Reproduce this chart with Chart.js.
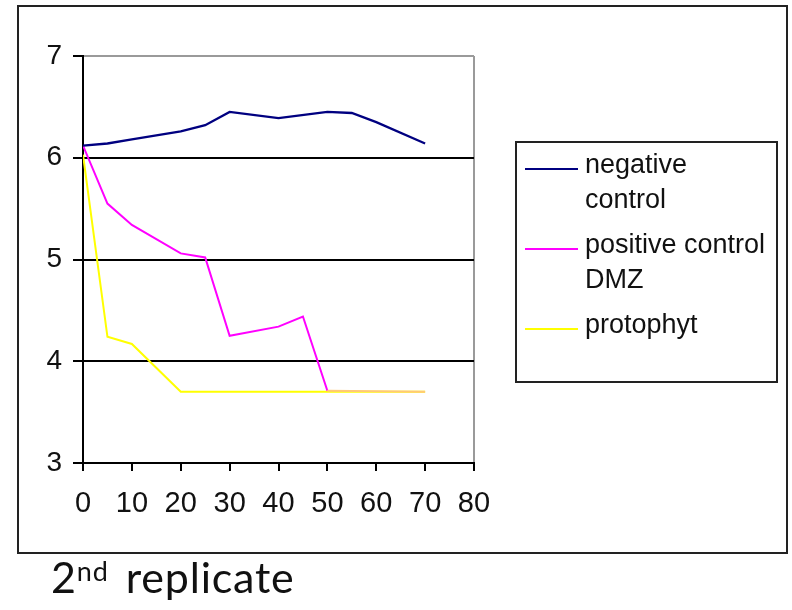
<!DOCTYPE html>
<html>
<head>
<meta charset="utf-8">
<script src="https://cdn.jsdelivr.net/npm/chart.js@4/dist/chart.umd.min.js"></script>
<style>
  html, body { margin: 0; padding: 0; background: #fff; width: 792px; height: 610px; overflow: hidden; }
  #frame { position: absolute; left: 17px; top: 5px; width: 771px; height: 549px; box-sizing: border-box; border: 2px solid #222; }
  #chart { position: absolute; left: 0; top: 0; }
  #legend { position: absolute; left: 515px; top: 141px; width: 263px; height: 242px; box-sizing: border-box;
            border: 2px solid #222; padding-top: 4px; font-family: "Liberation Sans", Arial, sans-serif; font-size: 27px;
            line-height: 35px; color: #111; }
  .item { display: flex; align-items: flex-start; margin-bottom: 10px; }
  .sw { width: 53px; height: 2px; margin-left: 8px; margin-top: 21px; flex: none; }
  .lbl { width: 186px; margin-left: 7px; }
  #caption { position: absolute; left: 51px; top: 555px; font-family: Lato, "Open Sans", sans-serif; font-size: 43px;
             line-height: 1; color: #111; white-space: nowrap; letter-spacing: 0.8px; word-spacing: 5px; }
  #caption span { font-size: 27px; vertical-align: 12px; letter-spacing: 1px; }
</style>
</head>
<body>
<div id="frame"></div>
<canvas id="chart" width="792" height="610"></canvas>
<div id="legend"></div>
<div id="caption">2<span>nd</span> replicate</div>
<script>
// ---- data ----
const seriesNames = ['negative control', 'positive control DMZ', 'protophyt'];
const seriesColors = ['#000080', '#FF00FF', '#FFFF00'];

const negX = [0, 5, 10, 20, 25, 30, 40, 50, 55, 60, 70];
const negY = [6.12, 6.14, 6.18, 6.26, 6.32, 6.45, 6.39, 6.45, 6.44, 6.35, 6.14];

const posX = [0, 5, 10, 20, 25, 30, 40, 45, 50, 70];
const posY = [6.12, 5.55, 5.34, 5.06, 5.02, 4.25, 4.34, 4.44, 3.71, 3.70];

const protoX = [0, 5, 10, 20, 70];
const protoY = [6.03, 4.24, 4.17, 3.70, 3.70];

const xTicks = [0, 10, 20, 30, 40, 50, 60, 70, 80];
const yTicks = [3, 4, 5, 6, 7];

function pts(xs, ys) { return xs.map((x, i) => ({ x: x, y: ys[i] })); }

Chart.defaults.font.family = '"Liberation Sans", Arial, sans-serif';
Chart.defaults.color = '#111';

const datasets = [
  { label: seriesNames[0], data: pts(negX, negY), borderColor: seriesColors[0], borderWidth: 2.3 },
  { label: seriesNames[1], data: pts(posX, posY), borderColor: seriesColors[1],
    segment: { borderColor: c => (c.p0.parsed.x >= 50 ? '#FFC878' : undefined) } },
  { label: seriesNames[2], data: pts(protoX, protoY), borderColor: seriesColors[2] }
].map(d => Object.assign({ showLine: true, pointRadius: 0, borderWidth: 2, tension: 0, fill: false }, d));

new Chart(document.getElementById('chart'), {
  type: 'scatter',
  data: { datasets },
  options: {
    responsive: false,
    animation: false,
    devicePixelRatio: 1,
    layout: { padding: { left: 0, top: 56, right: 318, bottom: 0 } },
    plugins: { legend: { display: false }, tooltip: { enabled: false } },
    scales: {
      x: {
        type: 'linear', min: xTicks[0], max: xTicks[xTicks.length - 1],
        afterBuildTicks: s => { s.ticks = xTicks.map(v => ({ value: v })); },
        afterFit: s => { s.height = 147; },
        ticks: { font: { size: 29 }, padding: 16, maxRotation: 0 },
        grid: {
          drawOnChartArea: true,
          color: c => (c.tick && c.tick.value === 80 ? '#9a9a9a' : 'rgba(0,0,0,0)'),
          lineWidth: 2, tickColor: '#000', tickLength: 8, tickWidth: 2
        },
        border: { display: true, color: '#000', width: 2 }
      },
      y: {
        type: 'linear', min: yTicks[0], max: yTicks[yTicks.length - 1],
        afterBuildTicks: s => { s.ticks = yTicks.map(v => ({ value: v })); },
        afterFit: s => { s.width = 83; },
        ticks: { font: { size: 28 }, padding: 11 },
        grid: {
          color: c => (c.tick && c.tick.value === 7 ? '#9a9a9a' : '#000'),
          lineWidth: 2, tickColor: '#000', tickLength: 10, tickWidth: 2
        },
        border: { display: true, color: '#000', width: 2 }
      }
    }
  }
});

// HTML legend built from the series
const lg = document.getElementById('legend');
seriesNames.forEach((n, i) => {
  const it = document.createElement('div'); it.className = 'item';
  const sw = document.createElement('div'); sw.className = 'sw'; sw.style.background = seriesColors[i];
  const lb = document.createElement('div'); lb.className = 'lbl'; lb.textContent = n;
  it.appendChild(sw); it.appendChild(lb); lg.appendChild(it);
});
</script>
</body>
</html>
